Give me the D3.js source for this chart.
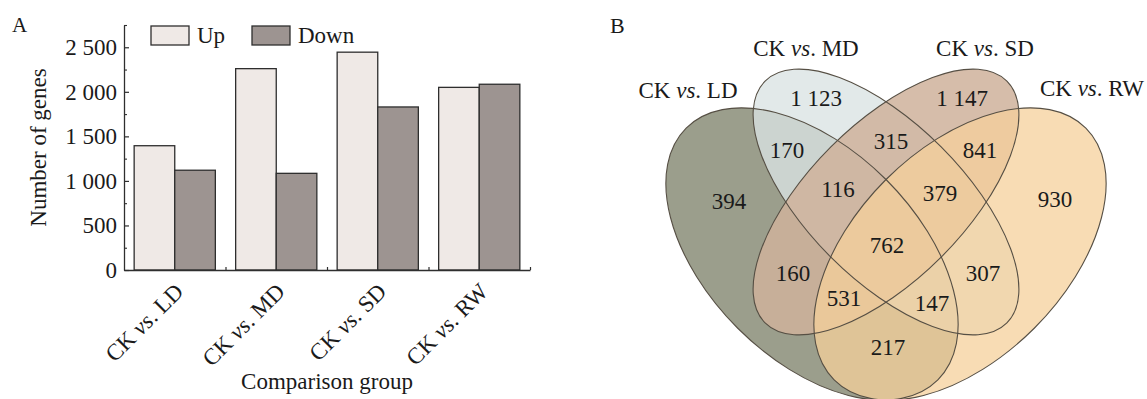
<!DOCTYPE html>
<html>
<head>
<meta charset="utf-8">
<script src="https://cdn.jsdelivr.net/npm/d3@7"></script>
<style>
  html, body { margin: 0; padding: 0; background: #fff; }
  svg { display: block; }
</style>
</head>
<body>
<div id="chart"></div>
<script>
// ---- data ----
const groups = ["LD", "MD", "SD", "RW"];
const series = ["Up", "Down"];
const upValues = [1395, 2260, 2445, 2050];
const downValues = [1120, 1085, 1830, 2085];
const yTicks = [0, 500, 1000, 1500, 2000, 2500];
const yMinorTicks = [250, 750, 1250, 1750, 2250, 2750];

// Venn: sets and the 15 region counts
const vennSets = ["LD", "MD", "SD", "RW"];
const regionKeys = ["LD", "MD", "SD", "RW", "LD&MD", "MD&SD", "SD&RW", "LD&SD", "MD&RW", "LD&RW",
                    "LD&MD&SD", "MD&SD&RW", "LD&SD&RW", "LD&MD&RW", "LD&MD&SD&RW"];
const regionValues = [394, 1123, 1147, 930, 170, 315, 841, 160, 307, 217, 116, 379, 531, 147, 762];

// ---- layout (venn units, 0,0 = centre of the two inner ellipses) ----
const ellipseLayout = {
  LD: { cx: -0.74, cy: 0.52, a: 1.78, b: 1.05, angle: 45 },
  MD: { cx: 0, cy: 0, a: 1.71, b: 0.78, angle: 45 },
  SD: { cx: 0, cy: 0, a: 1.71, b: 0.78, angle: -45 },
  RW: { cx: 0.74, cy: 0.52, a: 1.78, b: 1.05, angle: -45 }
};
const regionPos = {
  "LD": [-1.57, -0.01], "MD": [-0.70, -1.04], "SD": [0.76, -1.04], "RW": [1.69, -0.03],
  "LD&MD": [-0.99, -0.52], "MD&SD": [0.05, -0.61], "SD&RW": [0.94, -0.52],
  "LD&SD": [-0.93, 0.71], "MD&RW": [0.97, 0.71], "LD&RW": [0.02, 1.45],
  "LD&MD&SD": [-0.48, -0.13], "MD&SD&RW": [0.54, -0.09], "LD&SD&RW": [-0.42, 0.96],
  "LD&MD&RW": [0.46, 1.01], "LD&MD&SD&RW": [0.01, 0.43]
};
const titlePos = { LD: [-1.98, -1.045], MD: [-0.80, -1.46], SD: [0.99, -1.46], RW: [2.06, -1.06] };
const vennFill = {
  LD: { c: "#9b9e8c", o: 1 },
  MD: { c: "#dae3e3", o: 0.78 },
  SD: { c: "#cfb29b", o: 0.85 },
  RW: { c: "#f6d09b", o: 0.75 }
};

const W = 1147, H = 399;
const serif = "Liberation Serif";
const fmt = d3.formatLocale({ decimal: ".", thousands: " ", grouping: [3], currency: ["", ""] }).format(",");

const svg = d3.select("#chart").append("svg")
  .attr("width", W).attr("height", H)
  .attr("font-family", serif);

function label(sel) {
  return sel.attr("font-family", serif).attr("fill", "#1a1a1a");
}

// ================= Panel A: grouped bars =================
const plotLeft = 124, plotRight = 530, plotBottom = 270, plotTop = 25;
const ink = "#2e2e2e";

const x0 = d3.scaleBand().domain(groups).range([plotLeft, plotRight])
  .paddingInner(0.2).paddingOuter(0.1);
const x1 = d3.scaleBand().domain(series).range([0, x0.bandwidth()]);
const y = d3.scaleLinear().domain([0, 2750]).range([plotBottom, plotTop]);
const color = d3.scaleOrdinal().domain(series).range(["#efe9e6", "#9d9491"]);

const rows = groups.map((g, i) => ({ g, Up: upValues[i], Down: downValues[i] }));

svg.append("g").selectAll("g").data(rows).enter().append("g")
  .attr("transform", d => `translate(${x0(d.g)},0)`)
  .selectAll("rect")
  .data(d => series.map(s => ({ s, v: d[s] })))
  .enter().append("rect")
  .attr("x", d => x1(d.s))
  .attr("y", d => y(d.v))
  .attr("width", x1.bandwidth())
  .attr("height", d => plotBottom - y(d.v))
  .attr("fill", d => color(d.s))
  .attr("stroke", ink)
  .attr("stroke-width", 1.3);

// y axis, ticks pointing inward
const yAxis = svg.append("g")
  .attr("transform", `translate(${plotLeft},0)`)
  .call(d3.axisLeft(y).tickValues(yTicks).tickSizeInner(-5).tickSizeOuter(0)
    .tickPadding(7).tickFormat(fmt));
yAxis.attr("font-family", serif).attr("font-size", 23);
yAxis.select(".domain").attr("stroke", ink).attr("stroke-width", 1.3);
yAxis.selectAll(".tick line").attr("stroke", ink).attr("stroke-width", 1.2);
label(yAxis.selectAll("text"));

svg.append("g")
  .attr("transform", `translate(${plotLeft},0)`)
  .call(d3.axisLeft(y).tickValues(yMinorTicks).tickSizeInner(-3).tickSizeOuter(0).tickFormat(""))
  .call(g => g.select(".domain").remove())
  .selectAll(".tick line").attr("stroke", ink).attr("stroke-width", 1.1);

// x axis with small boundary ticks
const xb = d3.scaleLinear().domain([0, groups.length]).range([plotLeft, plotRight]);
const xAxis = svg.append("g")
  .attr("transform", `translate(0,${plotBottom})`)
  .call(d3.axisBottom(xb).tickValues(d3.range(1, groups.length + 1))
    .tickSizeInner(-3).tickSizeOuter(0).tickFormat(""));
xAxis.select(".domain").attr("stroke", ink).attr("stroke-width", 1.3);
xAxis.selectAll(".tick line").attr("stroke", ink).attr("stroke-width", 1.2);

// rotated category labels
const xl = svg.append("g").selectAll("text").data(groups).enter().append("text")
  .attr("transform", d => `translate(${x0(d) + x0.bandwidth() / 2 + 10},${plotBottom + 23}) rotate(-45)`)
  .attr("text-anchor", "end")
  .attr("font-size", 23)
  .call(label);
xl.append("tspan").text("CK ");
xl.append("tspan").attr("font-style", "italic").text("vs");
xl.append("tspan").text(d => ". " + d);

svg.append("text")
  .attr("x", (plotLeft + plotRight) / 2).attr("y", 389)
  .attr("text-anchor", "middle").attr("font-size", 23)
  .call(label)
  .text("Comparison group");

svg.append("text")
  .attr("transform", `translate(46,${(plotTop + plotBottom) / 2}) rotate(-90)`)
  .attr("text-anchor", "middle").attr("font-size", 23)
  .call(label)
  .text("Number of genes");

svg.append("text").attr("x", 12).attr("y", 32).attr("font-size", 21).call(label).text("A");

// legend
const legend = svg.append("g").selectAll("g").data(series).enter().append("g")
  .attr("transform", (d, i) => `translate(${151 + i * 101},26)`);
legend.append("rect")
  .attr("width", 38).attr("height", 19)
  .attr("fill", d => color(d)).attr("stroke", ink).attr("stroke-width", 1.3);
legend.append("text")
  .attr("x", 46).attr("y", 17).attr("font-size", 23)
  .call(label)
  .text(d => d);

// ================= Panel B: four-set Venn =================
const vx = d3.scaleLinear().domain([-1, 1]).range([786, 986]);
const vy = d3.scaleLinear().domain([-1, 1]).range([102, 302]);
const ux = v => vx(v) - vx(0), uy = v => vy(v) - vy(0);

const vg = svg.append("g");
vg.selectAll("ellipse.fill").data(vennSets).enter().append("ellipse")
  .attr("class", "fill")
  .attr("transform", d => `translate(${vx(ellipseLayout[d].cx)},${vy(ellipseLayout[d].cy)}) rotate(${ellipseLayout[d].angle})`)
  .attr("rx", d => ux(ellipseLayout[d].a))
  .attr("ry", d => uy(ellipseLayout[d].b))
  .attr("fill", d => vennFill[d].c)
  .attr("fill-opacity", d => vennFill[d].o);
vg.selectAll("ellipse.edge").data(vennSets).enter().append("ellipse")
  .attr("class", "edge")
  .attr("transform", d => `translate(${vx(ellipseLayout[d].cx)},${vy(ellipseLayout[d].cy)}) rotate(${ellipseLayout[d].angle})`)
  .attr("rx", d => ux(ellipseLayout[d].a))
  .attr("ry", d => uy(ellipseLayout[d].b))
  .attr("fill", "none")
  .attr("stroke", "#564f44")
  .attr("stroke-width", 1.1);

vg.selectAll("text.count").data(regionKeys).enter().append("text")
  .attr("class", "count")
  .attr("x", d => vx(regionPos[d][0]))
  .attr("y", d => vy(regionPos[d][1]))
  .attr("dy", "0.35em")
  .attr("text-anchor", "middle")
  .attr("font-size", 23)
  .call(label)
  .text((d, i) => fmt(regionValues[i]));

const vt = vg.selectAll("text.title").data(vennSets).enter().append("text")
  .attr("class", "title")
  .attr("x", d => vx(titlePos[d][0]))
  .attr("y", d => vy(titlePos[d][1]))
  .attr("text-anchor", "middle")
  .attr("font-size", 23)
  .call(label);
vt.append("tspan").text("CK ");
vt.append("tspan").attr("font-style", "italic").text("vs");
vt.append("tspan").text(d => ". " + d);

svg.append("text").attr("x", 610).attr("y", 33).attr("font-size", 22).call(label).text("B");
</script>
</body>
</html>
